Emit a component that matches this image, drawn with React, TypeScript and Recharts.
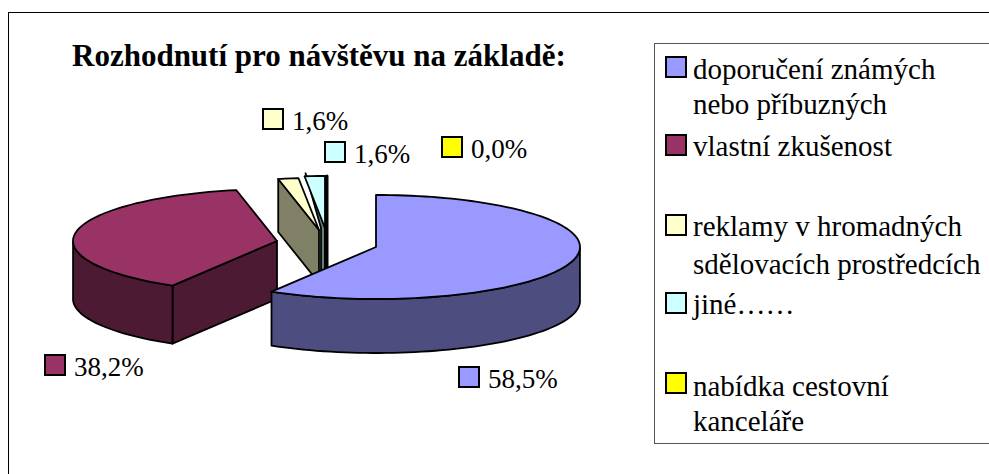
import React from 'react';
import { PieChart, Pie, Cell, Legend } from 'recharts';

// slices in draw order, the big blue one goes last so it sits on top
const sliceNames = ['vlastní zkušenost', 'reklamy', 'jiné', 'nabídka', 'doporučení'];
const sliceValues = [38.2, 1.6, 1.6, 0.0, 58.5];
const sliceColors = ['#993366', '#FFFFCC', '#CCFFFF', '#FFFF00', '#9999FF'];
const sideColors = ['#4D1A33', '#808066', '#668080', '#808000', '#4D4D80'];

// how far each slice is pulled out of the pie, in px
const explodeX = [-99, -57, -51, -49, 0];
const explodeY = [-6, -17, -19, -19, 0];
const sliceDepth = [58, 53, 53, 53, 54];

// value label swatch corners
const labelX = [45, 263, 325, 442, 459];
const labelY = [355, 109, 142, 137, 367];

const legendLines = [
  ['doporučení známých', 'nebo příbuzných'],
  ['vlastní zkušenost'],
  ['reklamy v hromadných', 'sdělovacích prostředcích'],
  ['jiné……'],
  ['nabídka cestovní', 'kanceláře'],
];
const legendColors = ['#9999FF', '#993366', '#FFFFCC', '#CCFFFF', '#FFFF00'];
const legendSwatchTop = [57, 135, 215, 293, 373];
const legendBaselines = [[79, 114], [156], [236, 274], [314], [396, 431]];

const title = 'Rozhodnutí pro návštěvu na základě:';

const FONT = '"Liberation Serif", "Times New Roman", serif';
const TILT = 0.255;

const total = sliceValues.reduce((a, b) => a + b, 0);
const pieStart = 90 - (360 * sliceValues[4]) / total;

function SliceShape(props: any) {
  const { cx, cy, outerRadius, startAngle, endAngle, index } = props;
  const ax = cx + explodeX[index];
  const ay = cy + explodeY[index];
  const depth = sliceDepth[index];
  const at = (deg: number) => {
    const rad = (deg * Math.PI) / 180;
    return [ax + outerRadius * Math.cos(rad), ay - outerRadius * TILT * Math.sin(rad)];
  };
  const steps = Math.max(1, Math.ceil(Math.abs(endAngle - startAngle) / 2));
  const arc: number[][] = [];
  const angles: number[] = [];
  for (let i = 0; i <= steps; i++) {
    const deg = startAngle + ((endAngle - startAngle) * i) / steps;
    angles.push(deg);
    arc.push(at(deg));
  }
  const poly = (pts: number[][]) => pts.map((p) => `${p[0]},${p[1]}`).join(' ');
  const front = arc.filter((_, i) => Math.sin((angles[i] * Math.PI) / 180) <= 0.001);
  const down = (p: number[]) => [p[0], p[1] + depth];
  const stroke = { stroke: '#000', strokeWidth: 1.8, strokeLinejoin: 'round' as const };
  const side = sideColors[index];
  const cosStart = Math.cos((startAngle * Math.PI) / 180);
  const cosEnd = Math.cos((endAngle * Math.PI) / 180);
  const zero = Math.abs(endAngle - startAngle) < 0.01;
  const apex = [ax, ay];
  // the "jiné" slice shows only a thin sliver of its cut face in the reference
  const sliver = index === 2;
  const startFace = sliver
    ? [[arc[0][0] + 1, arc[0][1] - 3], apex, down(apex), [ax - 4, ay + depth], [ax - 4, ay]]
    : [apex, arc[0], down(arc[0]), down(apex)];

  return (
    <g>
      {cosStart < 0 || zero ? (
        <polygon points={poly(startFace)} fill={side} {...stroke} strokeWidth={zero ? 3 : 1.8} />
      ) : null}
      {cosEnd > 0 ? (
        <polygon points={poly([apex, arc[arc.length - 1], down(arc[arc.length - 1]), down(apex)])} fill={side} {...stroke} />
      ) : null}
      {front.length > 1 ? (
        <polygon points={poly([...front, ...front.map(down).reverse()])} fill={side} {...stroke} />
      ) : null}
      <polygon points={poly([apex, ...arc])} fill={props.fill} {...stroke} />
    </g>
  );
}

function SliceLabel(props: any) {
  const { index, value } = props;
  const x = labelX[index];
  const y = labelY[index];
  return (
    <g>
      <rect x={x} y={y} width={20} height={20} fill={sliceColors[index]} stroke="#000" strokeWidth={2} />
      <text x={x + 29} y={y + 21} fontFamily={FONT} fontSize={27} fill="#000">
        {value.toFixed(1).replace('.', ',')}%
      </text>
    </g>
  );
}

function LegendBox() {
  return (
    <svg width={335} height={401} style={{ display: 'block' }}>
      <rect x={0.5} y={0.5} width={360} height={400} fill="#fff" stroke="#555" strokeWidth={1} />
      {legendLines.map((lines, i) => (
        <g key={i}>
          <rect x={12} y={legendSwatchTop[i] - 43} width={20} height={20} fill={legendColors[i]} stroke="#000" strokeWidth={2} />
          {lines.map((line, j) => (
            <text key={j} x={39} y={legendBaselines[i][j] - 43} fontFamily={FONT} fontSize={29} fill="#000">
              {line}
            </text>
          ))}
        </g>
      ))}
    </svg>
  );
}

export default function App() {
  const data = sliceNames.map((name, i) => ({ name, value: sliceValues[i] }));
  return (
    <div style={{ position: 'absolute', left: 0, top: 0, width: 989, height: 474, background: '#fff', overflow: 'hidden' }}>
      <PieChart width={989} height={474} margin={{ top: 0, right: 0, bottom: 0, left: 0 }}>
        <rect x={8.5} y={12.5} width={1000} height={500} fill="#fff" stroke="#000" strokeWidth={1} />
        <text x={72} y={66} fontFamily={FONT} fontSize={31} fontWeight="bold" fill="#000">
          {title}
        </text>
        <Pie
          data={data}
          dataKey="value"
          nameKey="name"
          cx={376}
          cy={247}
          outerRadius={204}
          startAngle={pieStart}
          endAngle={pieStart - 360}
          paddingAngle={0}
          isAnimationActive={false}
          stroke="#000"
          shape={SliceShape}
          inactiveShape={SliceShape}
          label={SliceLabel}
          labelLine={false}
        >
          {data.map((d, i) => (
            <Cell key={d.name} fill={sliceColors[i]} />
          ))}
        </Pie>
        <Legend content={<LegendBox />} wrapperStyle={{ position: 'absolute', left: 654, top: 43, width: 335, height: 401 }} />
      </PieChart>
    </div>
  );
}
